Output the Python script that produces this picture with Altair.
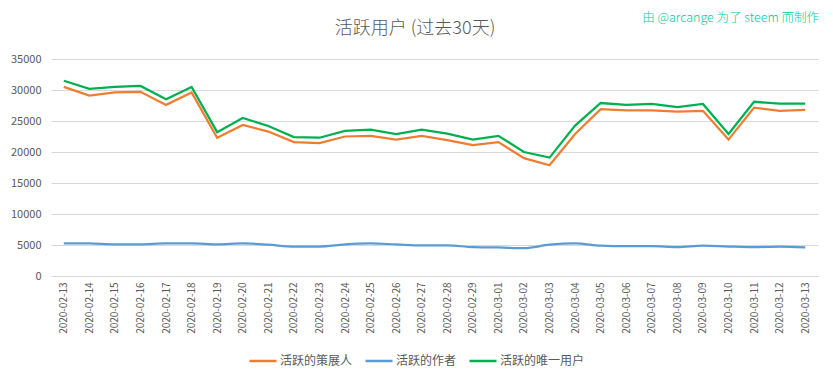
import altair as alt
import pandas as pd

dates = ["2020-02-13", "2020-02-14", "2020-02-15", "2020-02-16", "2020-02-17", "2020-02-18",
         "2020-02-19", "2020-02-20", "2020-02-21", "2020-02-22", "2020-02-23", "2020-02-24",
         "2020-02-25", "2020-02-26", "2020-02-27", "2020-02-28", "2020-02-29", "2020-03-01",
         "2020-03-02", "2020-03-03", "2020-03-04", "2020-03-05", "2020-03-06", "2020-03-07",
         "2020-03-08", "2020-03-09", "2020-03-10", "2020-03-11", "2020-03-12", "2020-03-13"]

curators = [30500, 29100, 29600, 29700, 27600, 29600, 22300, 24350, 23300, 21600,
            21450, 22500, 22600, 22000, 22600, 21900, 21100, 21600, 19000, 17850,
            22900, 26900, 26700, 26700, 26500, 26650, 22000, 27150, 26650, 26800]
authors = [5270, 5250, 5100, 5100, 5250, 5250, 5100, 5250, 5050, 4750,
           4750, 5100, 5250, 5100, 4950, 4950, 4650, 4600, 4500, 5050,
           5250, 4900, 4800, 4800, 4650, 4900, 4750, 4650, 4750, 4600]
unique_users = [31500, 30200, 30500, 30650, 28500, 30500, 23200, 25500, 24200, 22400,
                22300, 23400, 23600, 22900, 23600, 22950, 22000, 22600, 20000, 19100,
                24250, 27900, 27600, 27750, 27250, 27750, 22900, 28100, 27800, 27800]

series_names = ["活跃的策展人", "活跃的作者", "活跃的唯一用户"]
series_colors = ["#ED7D31", "#5B9BD5", "#00B050"]
y_ticks = [0, 5000, 10000, 15000, 20000, 25000, 30000, 35000]

title_text = "活跃用户 (过去30天)"
credit_text = "由 @arcange 为了 steem 而制作"

FONT = "Noto Sans CJK SC"
GREY = "#595959"

rows = []
for name, vals in zip(series_names, [curators, authors, unique_users]):
    for d, v in zip(dates, vals):
        rows.append({"date": d, "series": name, "value": v})
df = pd.DataFrame(rows)

W, H = 767, 217

x_enc = alt.X("date:N", sort=dates, scale=alt.Scale(type="point", padding=0.5),
              axis=alt.Axis(title=None, labelAngle=270, labelFontSize=10, labelFont=FONT,
                            labelColor=GREY, ticks=False, domain=True, domainColor="#d9d9d9",
                            labelPadding=6, grid=False))
y_enc = alt.Y("value:Q", scale=alt.Scale(domain=[0, 35000], nice=False),
              axis=alt.Axis(title=None, values=y_ticks, format="d", labelFontSize=11,
                            labelFont=FONT, labelColor=GREY, ticks=False, domain=False,
                            gridColor="#d9d9d9", gridWidth=1, labelPadding=10))
color_enc = alt.Color("series:N", sort=series_names,
                      scale=alt.Scale(domain=series_names, range=series_colors),
                      legend=alt.Legend(title=None, orient="none", direction="horizontal",
                                        legendX=197, legendY=287, symbolType="stroke",
                                        symbolSize=729, symbolStrokeWidth=2.5,
                                        labelFont=FONT, labelFontSize=12, labelColor=GREY,
                                        labelOffset=2, columnPadding=7, padding=0))

base = alt.Chart(df)
lines_straight = base.transform_filter(
    alt.FieldOneOfPredicate(field="series", oneOf=[series_names[0], series_names[2]])
).mark_line(strokeWidth=2.25).encode(x=x_enc, y=y_enc, color=color_enc)
lines_smooth = base.transform_filter(
    alt.FieldEqualPredicate(field="series", equal=series_names[1])
).mark_line(strokeWidth=2.25, interpolate="monotone").encode(x=x_enc, y=y_enc, color=color_enc)

title_mark = alt.Chart(pd.DataFrame({"t": [title_text]})).mark_text(
    font=FONT, fontSize=18, fontWeight=300, color=GREY, align="center", baseline="middle"
).encode(text="t:N", x=alt.value(364), y=alt.value(-30))

credit_mark = alt.Chart(pd.DataFrame({"t": [credit_text]})).mark_text(
    font=FONT, fontSize=12.5, fontWeight=300, color="#00CC99", align="right", baseline="middle"
).encode(text="t:N", x=alt.value(768), y=alt.value(-41))

chart = alt.layer(lines_smooth, lines_straight, title_mark, credit_mark).properties(
    width=W, height=H,
    autosize=alt.AutoSizeParams(type="none"),
    padding={"left": 43, "top": 51, "right": 7, "bottom": 95},
    background="white",
).configure_view(stroke=None)

chart.save("out.html", embed_options={"renderer": "svg", "actions": False})
